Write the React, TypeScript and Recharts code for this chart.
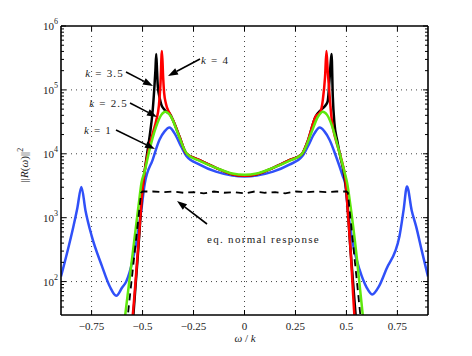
import React from 'react';
import { LineChart, Line, XAxis, YAxis, CartesianGrid } from 'recharts';

// k = 1
const blueX = [-0.9, -0.87, -0.84, -0.82, -0.8, -0.78, -0.75, -0.7, -0.66, -0.629, -0.6, -0.58, -0.548, -0.523, -0.506, -0.49, -0.45, -0.417, -0.392, -0.368, -0.343, -0.31, -0.286, -0.22, -0.14, -0.06, 0,
  0.06, 0.14, 0.22, 0.283, 0.31, 0.343, 0.369, 0.392, 0.417, 0.45, 0.482, 0.495, 0.507, 0.531, 0.564, 0.6, 0.626, 0.66, 0.695, 0.76, 0.78, 0.797, 0.82, 0.842, 0.87, 0.9];
const blueY = [120, 282, 708, 1410, 3020, 1300, 525, 178, 83, 60, 81, 100, 219, 575, 1330, 3310, 8130, 16600, 22400, 25700, 20900, 12900, 9330, 6760, 5250, 4570, 4420,
  4570, 5250, 6760, 9120, 12900, 20900, 25700, 22400, 16600, 8900, 4470, 3300, 1330, 400, 155, 80, 63, 85, 155, 513, 1300, 3090, 1300, 724, 300, 120];

// k = 2.5
const greenX = [-0.6, -0.585, -0.55, -0.52, -0.505, -0.49, -0.466, -0.433, -0.408, -0.389, -0.36, -0.327, -0.294, -0.28, -0.22, -0.14, -0.06, 0,
  0.06, 0.14, 0.22, 0.28, 0.294, 0.327, 0.36, 0.384, 0.405, 0.43, 0.462, 0.49, 0.503, 0.52, 0.55, 0.58, 0.595];
const greenY = [12, 30, 251, 1510, 3550, 5250, 11500, 26900, 40700, 45700, 38000, 20900, 11500, 9770, 7760, 6030, 4900, 4680,
  4900, 6030, 7760, 9770, 11500, 20900, 38000, 45700, 40700, 26900, 11500, 5250, 3550, 1510, 251, 30, 12];

// k = 4
const redX = [-0.56, -0.548, -0.52, -0.5, -0.49, -0.466, -0.45, -0.433, -0.42, -0.412, -0.405, -0.399, -0.394, -0.385, -0.37, -0.351, -0.319, -0.286, -0.22, -0.14, -0.06, 0,
  0.06, 0.14, 0.22, 0.28, 0.31, 0.348, 0.373, 0.384, 0.395, 0.402, 0.408, 0.413, 0.42, 0.43, 0.445, 0.462, 0.48, 0.495, 0.5, 0.52, 0.539, 0.55];
const redY = [12.6, 30, 400, 2820, 5250, 13200, 20900, 33100, 56200, 126000, 407000, 158000, 89100, 60300, 44700, 33900, 18600, 10200, 7940, 6030, 4790, 4520,
  4790, 6030, 7940, 9770, 15800, 38000, 45700, 69200, 158000, 407000, 200000, 126000, 63100, 30200, 17800, 11500, 7080, 3980, 2510, 316, 30, 11];

// k = 3.5
const blackX = [-0.555, -0.545, -0.52, -0.5, -0.48, -0.465, -0.45, -0.442, -0.437, -0.433, -0.429, -0.425, -0.416, -0.408, -0.395, -0.384, -0.37, -0.351, -0.319, -0.286, -0.22, -0.14, -0.06, 0,
  0.06, 0.14, 0.22, 0.28, 0.31, 0.348, 0.376, 0.395, 0.408, 0.417, 0.422, 0.427, 0.433, 0.441, 0.455, 0.47, 0.49, 0.5, 0.52, 0.545, 0.555];
const blackY = [12, 30, 355, 2820, 8910, 19000, 49000, 110000, 200000, 363000, 200000, 112000, 75000, 58900, 50100, 45700, 44000, 33900, 18600, 10200, 7940, 6030, 4790, 4520,
  4790, 6030, 7940, 9770, 15800, 38000, 48900, 56000, 66100, 145000, 250000, 363000, 79400, 30200, 16000, 9000, 4500, 2510, 316, 30, 12];

// eq. normal response
const eqX = [-0.585, -0.572, -0.507, -0.5, -0.45, -0.4, -0.35, -0.3, -0.25, -0.2, -0.15, -0.1, -0.05, 0, 0.05, 0.1, 0.15, 0.2, 0.25, 0.3, 0.35, 0.4, 0.45, 0.5, 0.507, 0.568, 0.58];
const eqY = [14, 30, 2455, 2570, 2570, 2512, 2570, 2455, 2512, 2400, 2570, 2455, 2512, 2400, 2570, 2455, 2512, 2400, 2570, 2512, 2570, 2512, 2570, 2570, 2455, 30, 14];

const xTicks = [-0.75, -0.5, -0.25, 0, 0.25, 0.5, 0.75];
const yMajorTicks = [1e2, 1e3, 1e4, 1e5, 1e6];
const yMinorSteps = [2, 3, 4, 5, 6, 7, 8, 9];
const yAllTicks = [40, 50, 60, 70, 80, 90, ...yMajorTicks.slice(0, 4).flatMap(d => yMinorSteps.map(s => s * d)), ...yMajorTicks].sort((a, b) => a - b);

const SERIF = 'Liberation Serif, Times New Roman, DejaVu Serif, serif';
const pts = (xs: number[], ys: number[]) => xs.map((x, i) => ({ x, y: ys[i] }));

const fmtX = (v: number) => (v === 0 ? '0' : (v < 0 ? '\u2212' : '') + String(Math.abs(v)));

const txt = { fontFamily: SERIF, fontSize: 11, fill: '#222' };

const BottomTick = ({ x, y, payload }: any) => (
  <g>
    <line x1={x} x2={x} y1={y} y2={y - 5} stroke="#000" />
    <text x={x} y={y + 15} textAnchor="middle" style={txt}>{fmtX(payload.value)}</text>
  </g>
);
const TopTick = ({ x, y }: any) => <line x1={x} x2={x} y1={y} y2={y + 5} stroke="#000" />;

const LeftTick = ({ x, y, payload }: any) => {
  const v = payload.value;
  const major = yMajorTicks.includes(v);
  return (
    <g>
      <line x1={x} x2={x + (major ? 5 : 3)} y1={y} y2={y} stroke="#000" />
      {major && (
        <text x={x - 3} y={y + 4} textAnchor="end" style={txt}>
          10<tspan dy={-6} style={{ fontSize: 8 }}>{Math.round(Math.log10(v))}</tspan>
        </text>
      )}
    </g>
  );
};
const RightTick = ({ x, y, payload }: any) => {
  const major = yMajorTicks.includes(payload.value);
  return <line x1={x} x2={x - (major ? 5 : 3)} y1={y} y2={y} stroke="#000" />;
};

const Arrow = ({ from, to }: { from: number[]; to: number[] }) => {
  const [x1, y1] = from;
  const [x2, y2] = to;
  const a = Math.atan2(y2 - y1, x2 - x1);
  const len = 10, w = 3.5;
  const bx = x2 - len * Math.cos(a), by = y2 - len * Math.sin(a);
  const px = -Math.sin(a) * w, py = Math.cos(a) * w;
  return (
    <g>
      <line x1={x1} y1={y1} x2={bx} y2={by} stroke="#000" strokeWidth={1.6} />
      <polygon points={`${x2},${y2} ${bx + px},${by + py} ${bx - px},${by - py}`} fill="#000" />
    </g>
  );
};

const KLabel = ({ x, y, v, anchor }: { x: number; y: number; v: string; anchor: 'start' | 'end' }) => (
  <text x={x} y={y} textAnchor={anchor} style={{ ...txt, letterSpacing: 1.2 }}>
    <tspan style={{ fontStyle: 'italic' }}>k</tspan> = {v}
  </text>
);

const axisLine = { stroke: '#000', strokeWidth: 1.6 };

const App: React.FC = () => (
  <div style={{ position: 'absolute', left: 0, top: 0, width: 472, height: 356, background: '#fff' }}>
    <LineChart width={472} height={356} margin={{ top: 25, right: 43, bottom: 11, left: 11 }}>
      <CartesianGrid stroke="#444" strokeDasharray="1 4" horizontalValues={yMajorTicks.slice(0, 4)} verticalValues={xTicks} />
      <XAxis dataKey="x" type="number" domain={[-0.9, 0.9]} allowDataOverflow ticks={xTicks} height={30}
        tickSize={0} tickMargin={0} tick={<BottomTick />} axisLine={axisLine} interval={0} />
      <XAxis xAxisId="t" orientation="top" dataKey="x" type="number" domain={[-0.9, 0.9]} allowDataOverflow ticks={xTicks}
        height={1} tickSize={0} tickMargin={0} tick={<TopTick />} axisLine={axisLine} interval={0} />
      <YAxis type="number" scale="log" domain={[30, 1e6]} allowDataOverflow ticks={yAllTicks} width={50}
        tickSize={0} tickMargin={0} tick={<LeftTick />} axisLine={axisLine} interval={0} />
      <YAxis yAxisId="r" orientation="right" type="number" scale="log" domain={[30, 1e6]} allowDataOverflow ticks={yAllTicks}
        width={1} tickSize={0} tickMargin={0} tick={<RightTick />} axisLine={axisLine} interval={0} />
      <Line data={pts(blueX, blueY)} dataKey="y" type="monotone" stroke="#3050f8" strokeWidth={2.5} dot={false} isAnimationActive={false} />
      <Line data={pts(blackX, blackY)} dataKey="y" type="monotone" stroke="#000" strokeWidth={2.5} dot={false} isAnimationActive={false} />
      <Line data={pts(redX, redY)} dataKey="y" type="monotone" stroke="#ff0000" strokeWidth={2.5} dot={false} isAnimationActive={false} />
      <Line data={pts(greenX, greenY)} dataKey="y" type="monotone" stroke="#5ee80c" strokeWidth={2.5} dot={false} isAnimationActive={false} />
      <Line data={pts(eqX, eqY)} dataKey="y" type="linear" stroke="#000" strokeWidth={1.8} strokeDasharray="7 5" dot={false} isAnimationActive={false} />
    </LineChart>
    <svg width={472} height={356} style={{ position: 'absolute', left: 0, top: 0, pointerEvents: 'none' }}>
      <KLabel x={124} y={77} v="3.5" anchor="end" />
      <KLabel x={201} y={64} v="4" anchor="start" />
      <KLabel x={128} y={107} v="2.5" anchor="end" />
      <KLabel x={112} y={134} v="1" anchor="end" />
      <text x={207} y={243} style={{ ...txt, letterSpacing: 1.3 }}>eq. normal response</text>
      <Arrow from={[126, 72]} to={[153, 86]} />
      <Arrow from={[200, 59]} to={[168, 76]} />
      <Arrow from={[130, 103]} to={[157, 117]} />
      <Arrow from={[116, 130]} to={[155, 149]} />
      <Arrow from={[207, 224]} to={[177, 201]} />
      <text x={245} y={342} textAnchor="middle" style={txt}>
        <tspan style={{ fontStyle: 'italic' }}>ω</tspan> / <tspan style={{ fontStyle: 'italic' }}>k</tspan>
      </text>
      <text x={0} y={0} transform="translate(28,165) rotate(-90)" textAnchor="middle" style={txt}>
        ||<tspan style={{ fontStyle: 'italic' }}>R</tspan>(<tspan style={{ fontStyle: 'italic' }}>ω</tspan>)||<tspan dy={-5} style={{ fontSize: 8 }}>2</tspan>
      </text>
    </svg>
  </div>
);

export default App;
